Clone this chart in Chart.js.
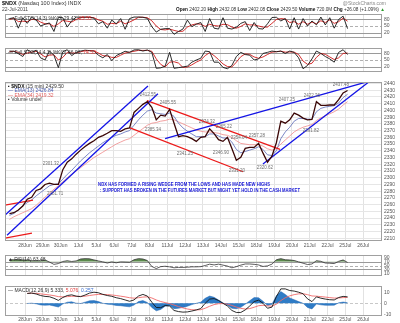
<!DOCTYPE html>
<html>
<head>
<meta charset="utf-8">
<script src="https://cdn.jsdelivr.net/npm/chart.js@4.4.1/dist/chart.umd.min.js"></script>
<style>
  body { margin: 0; background: #fff; width: 400px; height: 323px; overflow: hidden; position: relative; }
  canvas { position: absolute; left: 0; }
</style>
</head>
<body>
<canvas id="sto1"></canvas>
<canvas id="sto2"></canvas>
<canvas id="price"></canvas>
<canvas id="rsi"></canvas>
<canvas id="macd"></canvas>
<script>
// trading days on the x axis (one grid line per day start)
const dayLabels = ['27Jun','28Jun','29Jun','30Jun','1Jul','5Jul','6Jul','7Jul','8Jul','11Jul','12Jul',
  '13Jul','14Jul','15Jul','18Jul','19Jul','20Jul','21Jul','22Jul','25Jul','26Jul'];
const SLOTS_PER_DAY = 4;

const price = [2246.5,2248,2252,2258,2268,2271,2281,2283.5,2290,2292,2290,2290,2312,2323,2328,2335,2341,2346.5,2351,2355,
  2360,2362.5,2366,2370,2370,2369,2372.5,2374,2397,2403,2409,2413,2404.5,2386,2393,2391.5,2401.5,2381,2361,2362.5,
  2361,2358,2354,2360,2361,2372.5,2365.5,2356.5,2354,2360,2343.5,2326,2330.5,2343.5,2345,2345,2351,2336.5,2323,2332,
  2352,2384,2381,2386,2396,2393,2388.5,2386,2386.5,2413,2407.5,2407.5,2408,2408,2416,2426,2429.5];
const ema13 = [2244,2247,2252,2258,2263,2267,2273,2278,2283,2288,2290,2291,2298,2305,2311,2318,2325,2331,2337,2342,
  2347,2352,2356,2360,2363,2365,2368,2370,2378,2386,2393,2399,2401,2396,2395,2394,2396,2391,2381,2374,
  2369,2365,2361,2361,2361,2365,2365,2362,2359,2359,2353,2342,2337,2339,2341,2343,2346,2342,2334,2333,
  2340,2358,2368,2375,2384,2388,2388,2387,2387,2398,2403,2405,2406,2407,2411,2419,2424];
const ema34 = [2238,2242,2245,2248,2251,2254,2259,2265,2271,2277,2283,2288,2294,2300,2305,2310,2315,2320,2325,2330,
  2334,2338,2342,2346,2350,2353,2356,2358,2363,2368,2373,2378,2381,2382,2384,2385,2387,2386,2383,2380,
  2377,2374,2371,2369,2368,2368,2367,2366,2364,2363,2360,2355,2351,2350,2349,2349,2349,2347,2343,2341,
  2343,2350,2356,2362,2368,2372,2375,2377,2379,2385,2389,2392,2395,2398,2402,2408,2413];

const sto1K = [84,88,40,88,62,90,78,50,58,64,25,90,88,45,74,91,90,91,90,86,60,70,40,77,60,84,35,84,91,91,90,85,47,22,35,38,38,12,25,36,
  77,47,58,66,25,84,40,36,88,40,36,44,62,70,29,66,38,36,60,89,90,73,84,36,88,36,84,50,73,55,91,55,88,40,80,95,38];
const sto1D = [80,85,70,72,70,80,80,68,60,60,48,60,75,72,68,80,88,90,90,88,78,72,58,62,60,72,60,68,78,90,90,88,74,50,34,32,36,30,25,26,
  45,55,60,58,48,58,52,50,58,56,45,40,48,60,55,55,50,45,45,62,80,84,82,66,70,58,70,58,68,60,74,66,78,62,70,86,72];
const sto2K = [91,90,79,66,97,85,95,60,50,91,72,15,88,97,70,85,91,95,93,91,72,60,75,47,70,80,90,85,96,97,91,96,85,12,14,22,85,12,15,18,
  22,40,50,58,91,88,40,40,16,10,25,66,85,75,72,50,55,80,85,91,88,91,80,91,85,60,10,25,55,91,80,66,55,40,85,97,75];
const sto2D = [88,90,85,75,82,86,90,78,64,72,74,50,62,85,82,82,88,92,93,92,82,70,68,62,62,72,82,86,90,94,94,94,90,55,30,18,40,42,36,16,
  18,28,40,50,70,84,70,52,32,20,18,40,65,78,76,64,58,64,75,86,88,90,86,87,86,75,45,30,35,62,80,76,64,52,60,80,82];

const rsi = [80,80,81,79,79,75,75,75,79,68,56,60,71,75,71,74,84,86,85,79,74,69,63,69,64,69,68,67,80,86,84,76,45,34,44,46,43,38,40,40,
  41,43,43,44,50,57,53,57,52,47,38,44,52,58,58,56,53,45,48,57,80,86,80,79,76,69,62,55,58,75,72,63,62,60,72,79,66];

const macd = [null,null,null,null,8.8,9.2,8.4,7,6.2,5.9,4.5,2.6,5.2,7,7.6,6.4,6,7.4,9.2,10,9.5,8,7,6.3,5,4.2,3,1.8,3,6.5,8,6.5,1,
  -3.8,-4,-2,-2.5,-6.5,-7.5,-8,-7.8,-7,-6,-4.8,0,3.8,4.2,2.5,0,-2.5,-6.5,-8.3,-8.3,-6,-2.5,1.5,2.8,0,-4.5,-3.5,
  6,13,13,11.5,11,10,8.6,4,1.5,5.8,4.6,3.8,3.2,3,5.2,6.2,5.8];
const macdSignal = [null,null,null,null,9,9.1,8.9,8.5,8,7.5,6.9,6,5.8,6,6.3,6.3,6.2,6.4,7,7.6,8,8,7.8,7.5,7,6.4,5.8,5,4.6,5,5.6,5.8,4.8,
  3,1.6,0.6,-0.3,-1.6,-3,-4.2,-5.2,-5.8,-6,-5.8,-4.5,-2.7,-1.2,-0.4,-0.3,-0.8,-2,-3.4,-4.6,-5.2,-4.8,-3.6,-2.2,-1.8,-2.4,-2.6,
  -0.8,2.4,5,6.7,7.8,8.5,8.6,7.8,6.6,6.4,6,5.6,5.1,4.7,4.8,5.1,5.3];
const macdHist = [null,null,null,null,-0.2,0.1,-0.5,-1.5,-1.8,-1.6,-2.4,-3.4,-0.6,1,1.3,0.1,-0.2,1,2.2,2.4,1.5,0,-0.8,-1.2,-2,-2.2,-2.8,-3.2,
  -1.6,1.5,2.4,0.7,-3.8,-6.8,-5.6,-2.6,-2.2,-4.9,-4.5,-3.8,-2.6,-1.2,0,1,4.5,6.5,5.4,2.9,0.3,-1.7,-4.5,-4.9,-3.7,-0.8,2.3,5.1,5,1.8,
  -2.1,-0.9,6.8,10.6,8,4.8,3.2,1.5,0,-3.8,-5.1,-0.6,-1.4,-1.8,-1.9,-1.7,0.4,1.1,0.5];

const stoTicks = [20, 50, 80];
const priceTicks = [2210,2220,2230,2240,2250,2260,2270,2280,2290,2300,2310,2320,2330,2340,2350,2360,2370,2380,2390,2400,2410,2420,2430,2440];
const rsiTicks = [10, 30, 50, 70, 90];
const macdTicks = [-10, 0, 10];

// trend lines drawn on the chart: [day, price] end points
const blueChannelUpper = [[-0.40, 2238], [7.91, 2436.4]];
const blueChannelLower = [[-0.01, 2214.6], [8.47, 2424.8]];
const wedgeUpper = [[8.87, 2358.1], [20.38, 2443.6]];
const wedgeLower = [[14.37, 2320.4], [20.38, 2443.6]];
const redChannelUpper = [[7.85, 2414.6], [15.33, 2342.2]];
const redChannelLower = [[6.90, 2374.1], [13.25, 2308.9]];
const redFlagUpper = [[-0.40, 2258.1], [1.45, 2266.8]];
const redFlagLower = [[-0.40, 2208.9], [1.39, 2217.6]];

// price notes: [day, price, text]
const priceNotes = [
  [2.46, 2320.5, '2301.32'], [2.69, 2275.5, '2281.71'], [7.91, 2423.3, '2412.55'], [8.19, 2371.2, '2385.34'],
  [9.03, 2411.7, '2405.55'], [9.99, 2335, '2341.25'], [11.22, 2382.8, '2374.32'], [12.18, 2375.5, '2365.22'],
  [13.02, 2359.6, '2354.04'], [14.03, 2362.5, '2357.28'], [12.01, 2337.8, '2346.90'], [12.91, 2310.3, '2331.20'],
  [14.48, 2314.7, '2320.62'], [15.72, 2416.1, '2407.25'], [17.12, 2421.9, '2422.36'], [17.07, 2369.7, '2391.82'],
  [18.75, 2437.8, '2437.48']
];
const commentLines = [
  [9.94, 2290, 'NDX HAS FORMED A RISING WEDGE FROM THE LOWS AND HAS MADE NEW HIGHS'],
  [10.83, 2281, ': SUPPORT HAS BROKEN IN THE FUTURES MARKET BUT MIGHT YET HOLD IN THE CASH MARKET']
];

const FONT = '"Liberation Sans", Arial, sans-serif';
const X_MIN = -0.124, X_MAX = 21.06;
const tickDays = dayLabels.map((d, i) => i).filter(i => i > 0);

const series = arr => arr.map((v, i) => ({x: i / SLOTS_PER_DAY + 0.5 / SLOTS_PER_DAY, y: v}));
const seg = pts => pts.map(p => ({x: p[0], y: p[1]}));

function lineDs(data, color, width, extra) {
  return Object.assign({data, borderColor: color, borderWidth: width, pointRadius: 0, fill: false, tension: 0}, extra || {});
}

function drawParts(ctx, parts, x, y, size) {
  parts.forEach(([s, c, b]) => {
    ctx.font = (b ? 'bold ' : '') + size + 'px ' + FONT;
    ctx.fillStyle = c;
    ctx.fillText(s, x, y);
    x += ctx.measureText(s).width;
  });
  return x;
}

const panelPlugin = {
  id: 'panel',
  beforeDatasetsDraw(chart, args, o) {
    const {ctx, chartArea: a, scales: {y}} = chart;
    (o.levels || []).forEach(l => {
      const py = Math.round(y.getPixelForValue(l.v)) + 0.5;
      ctx.save();
      ctx.strokeStyle = l.c;
      ctx.lineWidth = 1;
      ctx.setLineDash(l.dash || []);
      ctx.beginPath();
      ctx.moveTo(a.left, py);
      ctx.lineTo(a.right, py);
      ctx.stroke();
      ctx.restore();
    });
  },
  afterDraw(chart, args, o) {
    const {ctx, chartArea: a} = chart;
    ctx.save();
    ctx.strokeStyle = '#a0a0a0';
    ctx.lineWidth = 1;
    ctx.strokeRect(a.left + 0.5, a.top + 0.5, a.right - a.left - 1, a.bottom - a.top - 1);
    ctx.textBaseline = 'top';
    let ly = a.top + 2;
    (o.legend || []).forEach(line => {
      drawParts(ctx, line, a.left + 3, ly, 5);
      ly += 4.5;
    });
    if (o.extra) o.extra(chart, ctx);
    ctx.restore();
  }
};

function panel(id, top, height, padTop, xAxisH, yCfg, datasets, po) {
  const cv = document.getElementById(id);
  cv.width = 400;
  cv.height = height;
  cv.style.top = top + 'px';
  return new Chart(cv, {
    type: 'line',
    data: {datasets},
    options: {
      responsive: false,
      animation: false,
      devicePixelRatio: 1,
      layout: {padding: {left: 5, right: 0, top: padTop, bottom: 0}},
      plugins: {legend: {display: false}, tooltip: {enabled: false}, panel: po},
      scales: {
        x: {
          type: 'linear', min: X_MIN, max: X_MAX,
          afterBuildTicks: s => { s.ticks = tickDays.map(v => ({value: v})); },
          afterFit: s => { s.height = xAxisH; },
          grid: {color: '#e2e2e2', drawTicks: false},
          border: {display: false},
          ticks: {display: xAxisH > 0, autoSkip: false, maxRotation: 0, padding: xAxisH > 8 ? 2 : 1,
            font: {size: 5, family: FONT}, color: '#555', callback: v => dayLabels[v] || ''}
        },
        y: {
          position: 'right', min: yCfg.min, max: yCfg.max,
          afterBuildTicks: s => { s.ticks = yCfg.ticks.map(v => ({value: v})); },
          afterFit: s => { s.width = 18; },
          grid: {display: !!yCfg.grid, color: '#e6e6e6', drawTicks: false},
          border: {display: false},
          ticks: {autoSkip: false, padding: 2, font: {size: 5, family: FONT}, color: '#555', callback: v => String(v)}
        }
      }
    },
    plugins: [panelPlugin]
  });
}

const stoLevels = [{v: 80, c: '#9a9a9a'}, {v: 50, c: '#b0b0b0', dash: [3, 2]}, {v: 20, c: '#9a9a9a'}];

// top stochastic panel, also carries the page header
panel('sto1', 0, 43, 14, 0, {min: -5, max: 105, ticks: stoTicks}, [
  lineDs(series(sto1K), '#151515', 0.9),
  lineDs(series(sto1D), '#d01818', 0.9)
], {
  levels: stoLevels,
  legend: [[['\u2014 Full STO(14,3) %K(3) 29.42, ', '#333'], ['25.55', '#e03030']]],
  extra: (chart, ctx) => {
    ctx.textBaseline = 'top';
    drawParts(ctx, [['$NDX', '#111', true], [' (Nasdaq 100 Index) INDX', '#333']], 2, 1, 5.5);
    drawParts(ctx, [['22-Jul-2011', '#444']], 2, 7.5, 5);
    ctx.textAlign = 'right';
    drawParts(ctx, [['@StockCharts.com', '#888']], 386, 1, 5);
    ctx.textAlign = 'left';
    drawParts(ctx, [['Open', '#111', true], [' 2402.20 ', '#333'], ['High', '#111', true], [' 2432.08 ', '#333'],
      ['Low', '#111', true], [' 2402.08 ', '#333'], ['Close', '#111', true], [' 2429.50 ', '#333'],
      ['Volume', '#111', true], [' 720.0M ', '#333'], ['Chg', '#111', true], [' +26.08 (+1.09%) ', '#333'],
      ['\u25b2', '#2a9a2a']], 176, 7.5, 4.7);
  }
});

panel('sto2', 43, 34, 3, 0, {min: -5, max: 105, ticks: stoTicks}, [
  lineDs(series(sto2K), '#151515', 0.9),
  lineDs(series(sto2D), '#d01818', 0.9)
], {
  levels: stoLevels,
  legend: [[['\u2014 Full STO(14,4,3) %K(3) 66.93, ', '#333'], ['74.53', '#e03030']]]
});

panel('price', 77, 173, 1, 9, {min: 2206, max: 2442.2, ticks: priceTicks, grid: true}, [
  lineDs(series(price), '#3a0606', 1.3),
  lineDs(seg(blueChannelUpper), '#1414e6', 1.3),
  lineDs(seg(blueChannelLower), '#1414e6', 1.3),
  lineDs(seg(wedgeUpper), '#1414e6', 1.3),
  lineDs(seg(wedgeLower), '#1414e6', 1.3),
  lineDs(seg(redChannelUpper), '#ec1a1a', 1.3),
  lineDs(seg(redChannelLower), '#ec1a1a', 1.3),
  lineDs(seg(redFlagUpper), '#ec1a1a', 1.3),
  lineDs(seg(redFlagLower), '#ec1a1a', 1.3),
  lineDs(series(ema13), '#5a6ab8', 0.8),
  lineDs(series(ema34), '#f08a8a', 0.8)
], {
  legend: [
    [['\u25aa ', '#111'], ['$NDX', '#111', true], [' (15 min) 2429.50', '#333']],
    [['\u2014 EMA(13) 2426.84', '#4a5cb0']],
    [['\u2014 EMA(34) 2419.32', '#e06060']],
    [['\u25aa Volume undef', '#333']]
  ],
  extra: (chart, ctx) => {
    const {x, y} = chart.scales;
    ctx.textAlign = 'center';
    ctx.textBaseline = 'middle';
    ctx.font = '4.5px ' + FONT;
    ctx.fillStyle = '#707070';
    priceNotes.forEach(([d, p, s]) => ctx.fillText(s, x.getPixelForValue(d), y.getPixelForValue(p)));
    ctx.font = 'bold 5px ' + FONT;
    ctx.fillStyle = '#2020d8';
    const widths = [172, 200];
    commentLines.forEach(([d, p, s], i) => ctx.fillText(s, x.getPixelForValue(d), y.getPixelForValue(p), widths[i]));
  }
});

panel('rsi', 250, 31, 2, 0, {min: -5, max: 105, ticks: rsiTicks}, [
  lineDs(series(rsi), '#333', 0.8, {fill: {target: {value: 70}, above: '#5b8a4c', below: 'rgba(0,0,0,0)'}})
], {
  levels: [{v: 70, c: '#9a9a9a'}, {v: 50, c: '#b0b0b0', dash: [3, 2]}, {v: 30, c: '#9a9a9a'}],
  legend: [[['\u25b2 RSI(14) 63.48', '#333']]]
});

panel('macd', 281, 42, 2, 7, {min: -11.5, max: 15.6, ticks: macdTicks}, [
  lineDs(series(macd), '#151515', 0.9),
  lineDs(series(macdSignal), '#f06a6a', 0.9),
  lineDs(series(macdHist), '#1e62b0', 0.5, {fill: {target: 'origin', above: '#2f7cc6', below: '#2f7cc6'}})
], {
  levels: [{v: 0, c: '#c8c8c8', dash: [3, 2]}],
  legend: [[['\u2014 MACD(12,26,9) 5.333, ', '#333'], ['5.076', '#e04040'], [', 0.257', '#3a6fd0']]]
});
</script>
</body>
</html>
